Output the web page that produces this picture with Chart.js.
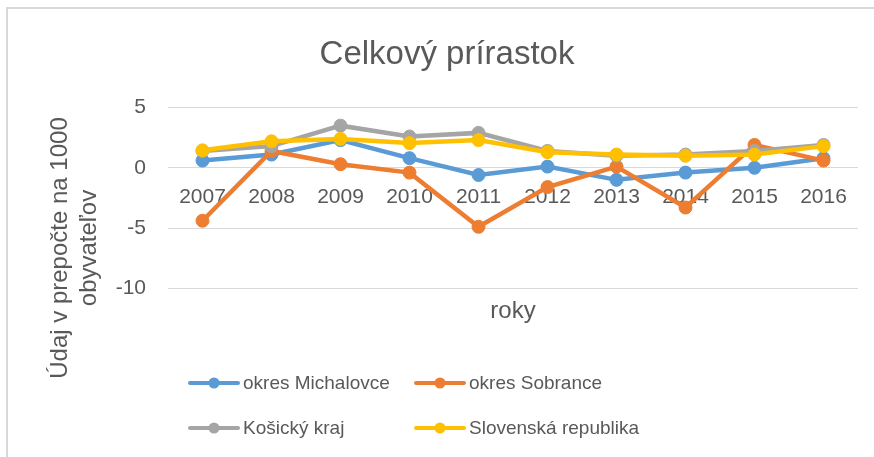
<!DOCTYPE html>
<html>
<head>
<meta charset="utf-8">
<script src="https://cdn.jsdelivr.net/npm/chart.js@4"></script>
<style>
  body { margin: 0; background: #fff; overflow: hidden; }
  #wrap { position: relative; width: 874px; height: 457px; }
</style>
</head>
<body>
<div id="wrap">
  <canvas id="prirastok"></canvas>
</div>
<script>
// Values (per 1000 inhabitants)
const years = ['2007', '2008', '2009', '2010', '2011', '2012', '2013', '2014', '2015', '2016'];
const michalovce = [0.6, 1.1, 2.3, 0.8, -0.6, 0.1, -1.0, -0.4, 0.0, 0.8];
const sobrance = [-4.4, 1.4, 0.3, -0.4, -4.9, -1.6, 0.1, -3.3, 1.9, 0.6];
const kosicky = [1.4, 1.8, 3.5, 2.6, 2.9, 1.4, 1.0, 1.1, 1.4, 1.9];
const slovensko = [1.45, 2.2, 2.4, 2.05, 2.3, 1.3, 1.1, 1.0, 1.1, 1.8];
const yTicks = [5, 0, -5, -10];

const textColor = '#595959';
const fontFamily = '"Liberation Sans", Arial, sans-serif';

function series(label, data, color, order) {
    return {
        label: label,
        data: data,
        borderColor: color,
        backgroundColor: color,
        borderWidth: 4.5,
        pointRadius: 6.5,
        pointHoverRadius: 6.5,
        pointBorderWidth: 1,
        pointBackgroundColor: color,
        tension: 0,
        order: order
    };
}

// chart frame (only top and left edge are inside the picture)
const framePlugin = {
    id: 'frame',
    beforeDraw(chart) {
        const ctx = chart.ctx;
        ctx.save();
        ctx.strokeStyle = '#d9d9d9';
        ctx.lineWidth = 2;
        ctx.beginPath();
        ctx.moveTo(7, chart.height);
        ctx.lineTo(7, 8);
        ctx.lineTo(chart.width, 8);
        ctx.stroke();
        ctx.restore();
    }
};

// y axis title drawn off-centre like Excel does
const yTitlePlugin = {
    id: 'yTitle',
    afterDraw(chart) {
        const ctx = chart.ctx;
        ctx.save();
        ctx.fillStyle = textColor;
        ctx.font = '24px ' + fontFamily;
        ctx.textAlign = 'center';
        ctx.textBaseline = 'alphabetic';
        [['Údaj v prepočte na 1000', 67], ['obyvateľov', 96]].forEach(([t, x]) => {
            ctx.save();
            ctx.translate(x, 248);
            ctx.rotate(-Math.PI / 2);
            ctx.fillText(t, 0, 0);
            ctx.restore();
        });
        ctx.restore();
    }
};

// two-column legend under the chart
const gridLegendPlugin = {
    id: 'gridLegend',
    afterDraw(chart) {
        const ctx = chart.ctx;
        ctx.save();
        ctx.font = '19px ' + fontFamily;
        ctx.textBaseline = 'middle';
        chart.data.datasets.forEach((ds, i) => {
            const x0 = i % 2 === 0 ? 190 : 416;
            const y = i < 2 ? 383 : 428;
            ctx.strokeStyle = ds.borderColor;
            ctx.lineWidth = 4;
            ctx.lineCap = 'round';
            ctx.beginPath();
            ctx.moveTo(x0, y);
            ctx.lineTo(x0 + 48, y);
            ctx.stroke();
            ctx.fillStyle = ds.borderColor;
            ctx.beginPath();
            ctx.arc(x0 + 24, y, 5.5, 0, Math.PI * 2);
            ctx.fill();
            ctx.fillStyle = textColor;
            ctx.fillText(ds.label, x0 + 53, y + 1);
        });
        ctx.restore();
    }
};

new Chart(document.getElementById('prirastok'), {
    type: 'line',
    data: {
        labels: years,
        datasets: [
            series('okres Michalovce', michalovce, '#5B9BD5', 4),
            series('okres Sobrance', sobrance, '#ED7D31', 3),
            series('Košický kraj', kosicky, '#A5A5A5', 2),
            series('Slovenská republika', slovensko, '#FFC000', 1)
        ]
    },
    options: {
        responsive: true,
        maintainAspectRatio: false,
        animation: false,
        layout: { padding: { left: 36, right: 16, top: 0, bottom: 131 } },
        plugins: {
            legend: { display: false },
            tooltip: { enabled: false },
            title: {
                display: true,
                text: 'Celkový prírastok',
                color: textColor,
                font: { family: fontFamily, size: 33, weight: 'normal' },
                padding: { top: 35, bottom: 33 }
            }
        },
        scales: {
            x: {
                position: { y: 0 },
                offset: true,
                grid: { display: false, drawTicks: false },
                border: { display: false },
                ticks: {
                    color: textColor,
                    font: { family: fontFamily, size: 21 },
                    padding: 17,
                    maxRotation: 0
                }
            },
            x2: {
                type: 'category',
                labels: years,
                position: 'bottom',
                offset: true,
                grid: { display: false, drawTicks: false },
                border: { display: false },
                ticks: { display: false },
                title: {
                    display: true,
                    text: 'roky',
                    color: textColor,
                    font: { family: fontFamily, size: 24 },
                    padding: { top: 9, bottom: 0 }
                }
            },
            y: {
                min: -10,
                max: 5,
                afterFit(scale) { scale.width = 132; },
                afterBuildTicks(scale) { scale.ticks = yTicks.map(v => ({ value: v })); },
                grid: { color: '#d9d9d9', lineWidth: 1, drawTicks: false },
                border: { display: false },
                ticks: {
                    color: textColor,
                    font: { family: fontFamily, size: 21 },
                    padding: 22
                }
            }
        }
    },
    plugins: [framePlugin, yTitlePlugin, gridLegendPlugin]
});
</script>
</body>
</html>
